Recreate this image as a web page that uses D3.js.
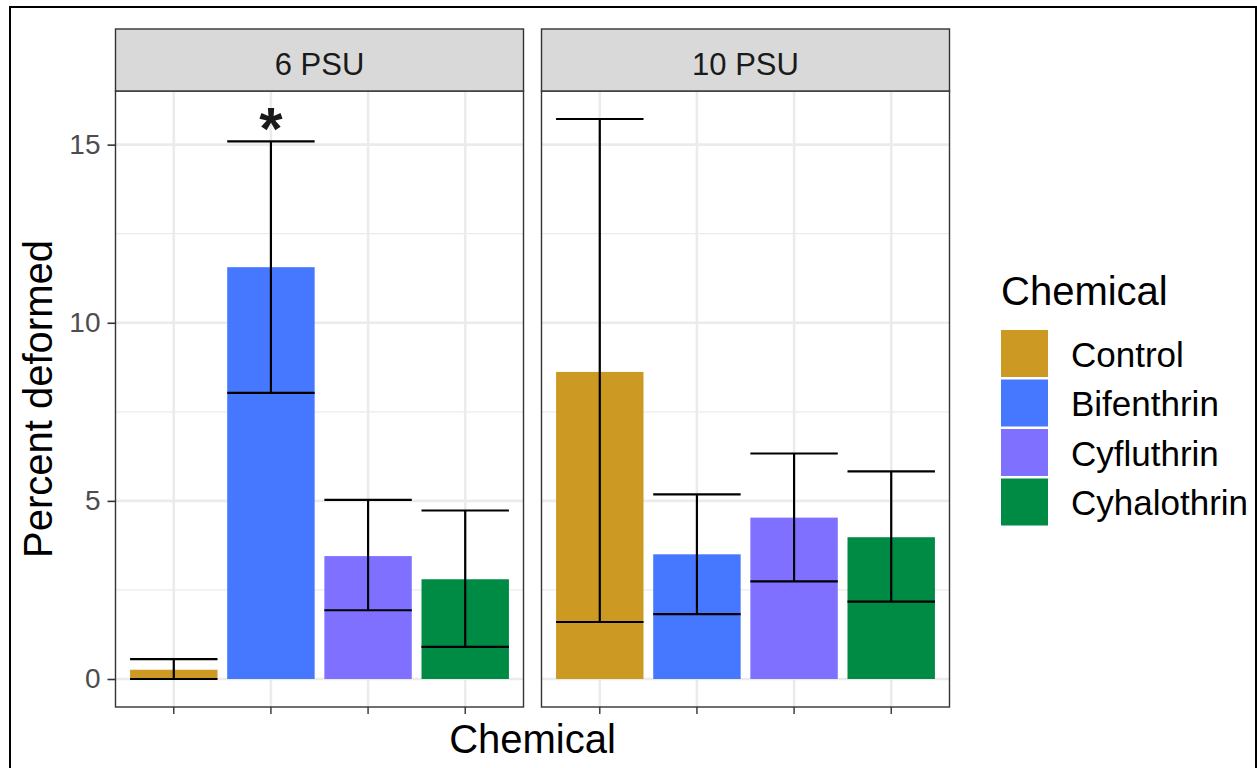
<!DOCTYPE html>
<html>
<head>
<meta charset="utf-8">
<script src="https://cdn.jsdelivr.net/npm/d3@7"></script>
<style>
  html, body { margin: 0; padding: 0; background: #fff; }
  svg { display: block; font-family: "Liberation Sans", Arial, sans-serif; }
</style>
</head>
<body>
<svg id="chart" width="1257" height="768"></svg>
<script>
// Facets, categories and summary values (percent deformed, mean with interval)
const facets = ["6 PSU", "10 PSU"];
const chemicals = ["Control", "Bifenthrin", "Cyfluthrin", "Cyhalothrin"];
const colors = ["#CC9922", "#4677FF", "#8070FF", "#008B45"];
const means6 = [0.26, 11.56, 3.45, 2.80];
const lower6 = [0.0, 8.03, 1.93, 0.90];
const upper6 = [0.56, 15.09, 5.03, 4.73];
const means10 = [8.62, 3.50, 4.53, 3.98];
const lower10 = [1.60, 1.82, 2.74, 2.17];
const upper10 = [15.72, 5.18, 6.33, 5.83];
const yTicks = [0, 5, 10, 15];
const yMinor = [2.5, 7.5, 12.5];
const significant = [{ facet: "6 PSU", chemical: "Bifenthrin", mark: "*" }];

const panelData = [
  { facet: facets[0], mean: means6, lo: lower6, hi: upper6 },
  { facet: facets[1], mean: means10, lo: lower10, hi: upper10 }
];

const svg = d3.select("#chart");

// outer frame
svg.append("rect")
  .attr("x", 10).attr("y", 7).attr("width", 1246).attr("height", 780)
  .attr("fill", "none").attr("stroke", "#000").attr("stroke-width", 2);

const panelTop = 91, panelBottom = 707;
const stripTop = 29;
const panelX = [[115.5, 523.5], [541.5, 949.5]];

// y scale with 5% expansion on both ends
const yMax = d3.max([...upper6, ...upper10]);
const yPad = yMax * 0.05;
const y = d3.scaleLinear().domain([-yPad, yMax + yPad]).range([panelBottom, panelTop]);

const color = d3.scaleOrdinal().domain(chemicals).range(colors);

panelData.forEach((p, i) => {
  const [x0, x1] = panelX[i];
  // discrete positions 1..4 with 0.6 expansion on each side
  const xi = d3.scaleLinear().domain([0.4, 4.6]).range([x0, x1]);
  const cx = c => xi(chemicals.indexOf(c) + 1);
  const bw = xi(1.45) - xi(0.55);

  const g = svg.append("g");

  g.append("rect").attr("x", x0).attr("y", panelTop)
    .attr("width", x1 - x0).attr("height", panelBottom - panelTop)
    .attr("fill", "#fff");

  // minor grid
  g.selectAll(".ymin").data(yMinor).join("line")
    .attr("x1", x0).attr("x2", x1)
    .attr("y1", d => y(d)).attr("y2", d => y(d))
    .attr("stroke", "#EBEBEB").attr("stroke-width", 1.3);
  // major grid
  g.selectAll(".ymaj").data(yTicks).join("line")
    .attr("x1", x0).attr("x2", x1)
    .attr("y1", d => y(d)).attr("y2", d => y(d))
    .attr("stroke", "#EBEBEB").attr("stroke-width", 2.6);
  g.selectAll(".xmaj").data(chemicals).join("line")
    .attr("x1", d => cx(d)).attr("x2", d => cx(d))
    .attr("y1", panelTop).attr("y2", panelBottom)
    .attr("stroke", "#EBEBEB").attr("stroke-width", 2.6);

  // bars
  g.selectAll(".bar").data(chemicals).join("rect")
    .attr("x", d => cx(d) - bw / 2)
    .attr("width", bw)
    .attr("y", (d, k) => y(p.mean[k]))
    .attr("height", (d, k) => y(0) - y(p.mean[k]))
    .attr("fill", d => color(d));

  // error bars
  const eb = g.selectAll(".eb").data(chemicals).join("g");
  eb.append("line")
    .attr("x1", d => cx(d)).attr("x2", d => cx(d))
    .attr("y1", (d, k) => y(p.lo[k])).attr("y2", (d, k) => y(p.hi[k]))
    .attr("stroke", "#000").attr("stroke-width", 2.2);
  eb.append("line")
    .attr("x1", d => cx(d) - bw / 2).attr("x2", d => cx(d) + bw / 2)
    .attr("y1", (d, k) => y(p.lo[k])).attr("y2", (d, k) => y(p.lo[k]))
    .attr("stroke", "#000").attr("stroke-width", 2.2);
  eb.append("line")
    .attr("x1", d => cx(d) - bw / 2).attr("x2", d => cx(d) + bw / 2)
    .attr("y1", (d, k) => y(p.hi[k])).attr("y2", (d, k) => y(p.hi[k]))
    .attr("stroke", "#000").attr("stroke-width", 2.2);

  // significance marks
  significant.filter(s => s.facet === p.facet).forEach(s => {
    const k = chemicals.indexOf(s.chemical);
    g.append("text")
      .attr("x", cx(s.chemical)).attr("y", y(p.hi[k]) + 8)
      .attr("text-anchor", "middle")
      .attr("font-size", 60).attr("font-weight", "bold").attr("fill", "#1a1a1a")
      .text(s.mark);
  });

  // panel border
  g.append("rect").attr("x", x0).attr("y", panelTop)
    .attr("width", x1 - x0).attr("height", panelBottom - panelTop)
    .attr("fill", "none").attr("stroke", "#333").attr("stroke-width", 1.4);

  // strip
  g.append("rect").attr("x", x0).attr("y", stripTop)
    .attr("width", x1 - x0).attr("height", panelTop - stripTop)
    .attr("fill", "#D9D9D9").attr("stroke", "#333").attr("stroke-width", 1.4);
  g.append("text")
    .attr("x", (x0 + x1) / 2).attr("y", 75)
    .attr("text-anchor", "middle").attr("font-size", 31).attr("fill", "#1A1A1A")
    .text(p.facet);

  // x ticks (no labels)
  g.selectAll(".xt").data(chemicals).join("line")
    .attr("x1", d => cx(d)).attr("x2", d => cx(d))
    .attr("y1", panelBottom).attr("y2", panelBottom + 7)
    .attr("stroke", "#333").attr("stroke-width", 1.4);
});

// y axis on the first panel
const yAxis = d3.axisLeft(y).tickValues(yTicks).tickSize(8).tickPadding(7).tickFormat(d3.format("d"));
const ya = svg.append("g").attr("transform", `translate(${panelX[0][0]},0)`).call(yAxis);
ya.select(".domain").remove();
ya.selectAll(".tick line").attr("stroke", "#333").attr("stroke-width", 1.6);
ya.selectAll(".tick text").attr("fill", "#4D4D4D").attr("font-size", 28)
  .attr("font-family", "Liberation Sans, Arial, sans-serif");

// axis titles
svg.append("text")
  .attr("transform", `translate(52,${(panelTop + panelBottom) / 2}) rotate(-90)`)
  .attr("text-anchor", "middle").attr("font-size", 40).attr("fill", "#000")
  .text("Percent deformed");
svg.append("text")
  .attr("x", (panelX[0][0] + panelX[1][1]) / 2).attr("y", 753)
  .attr("text-anchor", "middle").attr("font-size", 40).attr("fill", "#000")
  .text("Chemical");

// legend
const lg = svg.append("g").attr("transform", "translate(1001,0)");
lg.append("text").attr("x", 0).attr("y", 305)
  .attr("font-size", 40).attr("fill", "#000").text("Chemical");
const keyH = 49.5;
const items = lg.selectAll(".key").data(chemicals).join("g")
  .attr("transform", (d, i) => `translate(0,${330 + i * keyH})`);
items.append("rect").attr("x", 0).attr("y", 0)
  .attr("width", 47).attr("height", keyH - 2.5)
  .attr("fill", d => color(d));
items.append("text").attr("x", 70).attr("y", keyH / 2 + 12)
  .attr("font-size", 35).attr("fill", "#000").text(d => d);
</script>
</body>
</html>
